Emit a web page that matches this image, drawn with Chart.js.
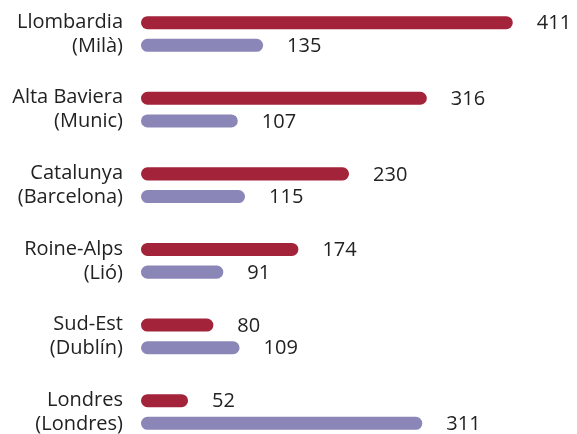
<!DOCTYPE html>
<html>
<head>
<meta charset="utf-8">
<script src="https://cdn.jsdelivr.net/npm/chart.js@4/dist/chart.umd.min.js"></script>
<style>
  html, body { margin: 0; padding: 0; background: #fff; }
  #wrap { position: relative; width: 577px; height: 434px; }
</style>
</head>
<body>
<div id="wrap"><canvas id="regionsChart"></canvas></div>
<script>
const regions = [
  ["Llombardia", "(Milà)"],
  ["Alta Baviera", "(Munic)"],
  ["Catalunya", "(Barcelona)"],
  ["Roine-Alps", "(Lió)"],
  ["Sud-Est", "(Dublín)"],
  ["Londres", "(Londres)"],
];
const regionValues = [411, 316, 230, 174, 80, 52];
const cityValues = [135, 107, 115, 91, 109, 311];

const FONT = "'Open Sans', 'Noto Sans', sans-serif";
const TEXT_COLOR = "#222222";

// writes the value just past the end of each bar
const valueLabels = {
  id: "valueLabels",
  afterDatasetsDraw(chart) {
    const ctx = chart.ctx;
    ctx.save();
    ctx.font = "20px " + FONT;
    ctx.fillStyle = TEXT_COLOR;
    ctx.textAlign = "left";
    ctx.textBaseline = "middle";
    chart.data.datasets.forEach((ds, i) => {
      chart.getDatasetMeta(i).data.forEach((bar, j) => {
        ctx.fillText(String(ds.data[j]), bar.x + 24, bar.y + 1);
      });
    });
    ctx.restore();
  },
};

new Chart(document.getElementById("regionsChart"), {
  type: "bar",
  data: {
    labels: regions,
    datasets: [
      {
        label: "Regió",
        data: regionValues,
        backgroundColor: "#a2233a",
        borderRadius: 7,
        borderSkipped: false,
        categoryPercentage: 0.6,
        barPercentage: 0.575,
        clip: false,
      },
      {
        label: "Ciutat",
        data: cityValues,
        backgroundColor: "#8a87b8",
        borderRadius: 7,
        borderSkipped: false,
        categoryPercentage: 0.6,
        barPercentage: 0.575,
        clip: false,
      },
    ],
  },
  options: {
    indexAxis: "y",
    animation: false,
    responsive: true,
    maintainAspectRatio: false,
    layout: { padding: { top: 34, bottom: 22, left: 0, right: 0 } },
    plugins: {
      legend: { display: false },
      tooltip: { enabled: false },
    },
    scales: {
      x: {
        display: false,
        min: 0,
        max: 482,
      },
      y: {
        offset: false,
        grid: { display: false, drawTicks: false },
        border: { display: false },
        ticks: {
          padding: 18,
          color: TEXT_COLOR,
          font: { family: FONT, size: 20, lineHeight: 1.2 },
        },
        afterFit(scale) {
          scale.width = 141;
          scale.paddingTop = 0;
          scale.paddingBottom = 0;
        },
      },
    },
  },
  plugins: [valueLabels],
});
</script>
</body>
</html>
